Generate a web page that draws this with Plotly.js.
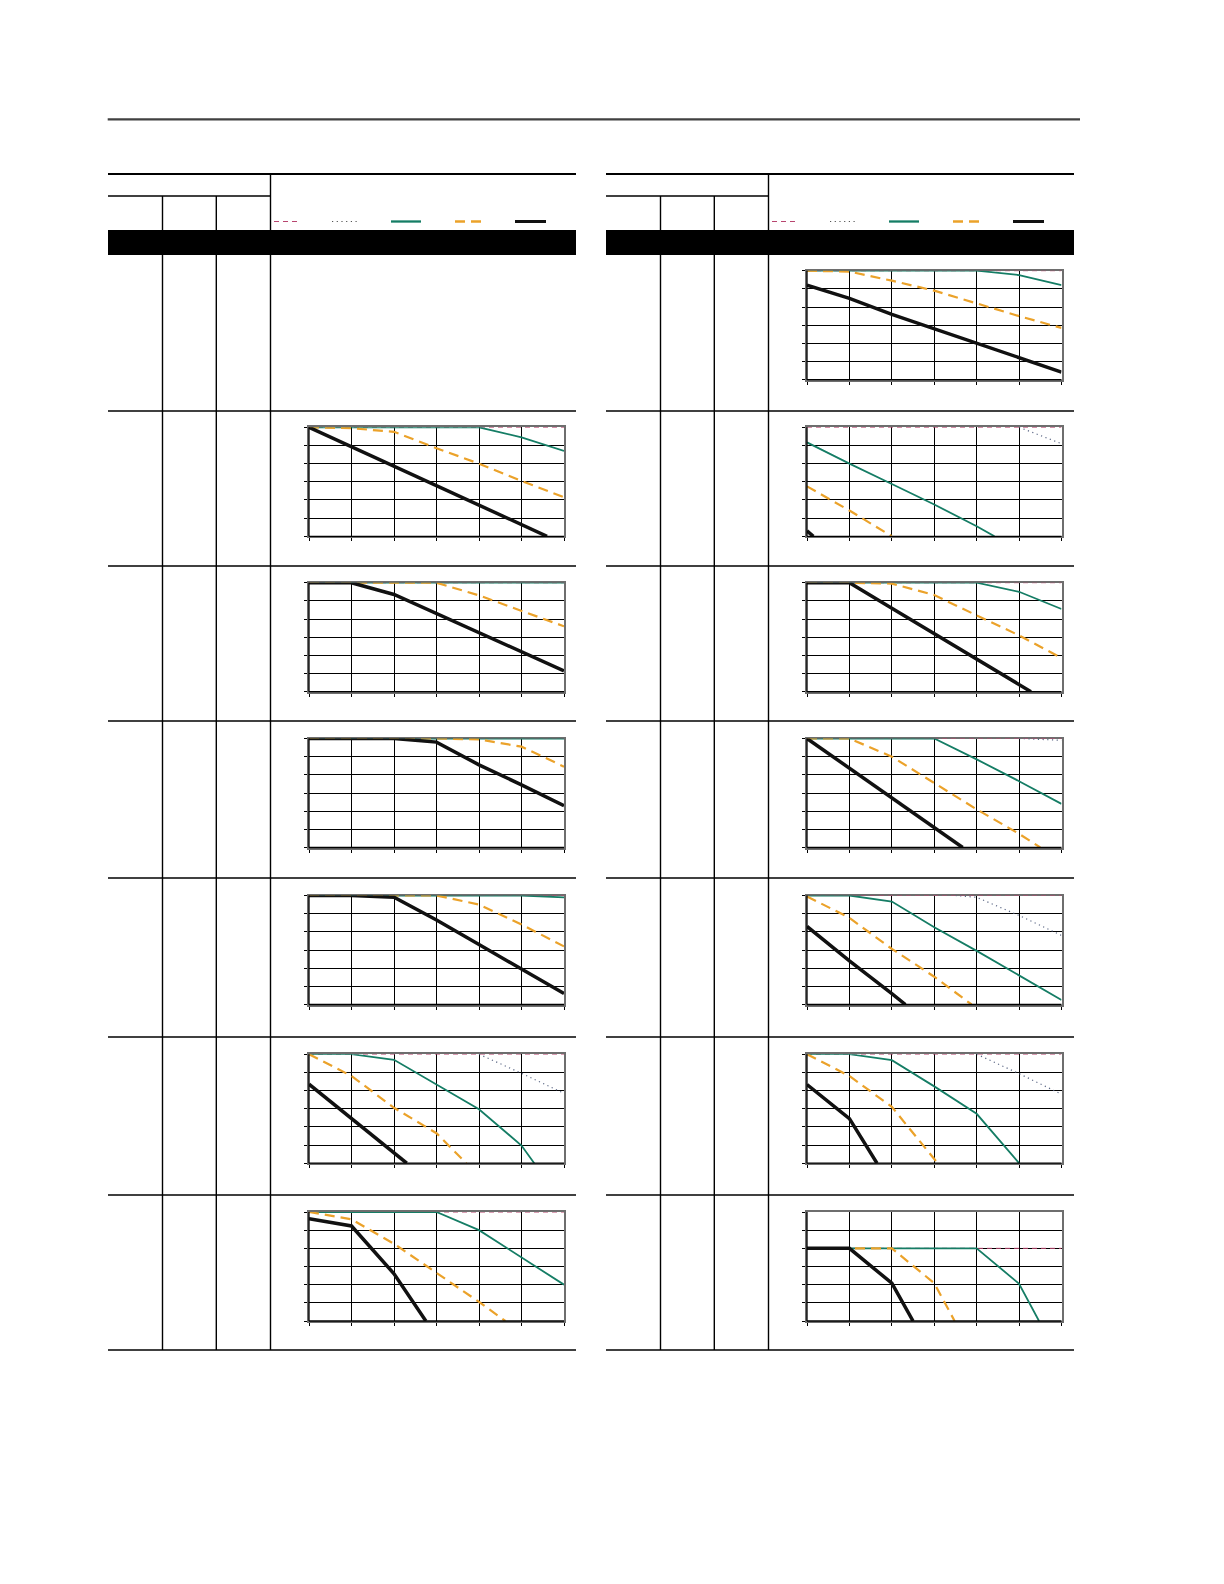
<!DOCTYPE html>
<html>
<head>
<meta charset="utf-8">
<script src="https://cdn.plot.ly/plotly-3.0.1.min.js"></script>
<style>html,body{margin:0;padding:0;background:#fff;}#chart{width:1224px;height:1584px;}</style>
</head>
<body>
<div id="chart"></div>
<script>
// ---------- DATA (grid units: x 0..6, y 0..6) ----------
const X_FULL = [0, 1, 2, 3, 4, 5, 6];
const TOP6 = [6, 6, 6, 6, 6, 6, 6];

// Right column, row 1
const R1_green_y  = [6, 6, 6, 6, 6, 5.76, 5.21];
const R1_orange_y = [6, 5.95, 5.45, 4.9, 4.2, 3.5, 2.85];
const R1_black_y  = [5.2, 4.48, 3.6, 2.8, 2.0, 1.19, 0.42];

// Left column, row 2
const L2_green_y  = [6, 6, 6, 6, 6, 5.45, 4.7];
const L2_orange_y = [6, 5.95, 5.75, 4.85, 4.0, 3.05, 2.15];
const L2_black_x  = [0, 1, 2, 3, 4, 5, 5.6];
const L2_black_y  = [6, 4.93, 3.86, 2.79, 1.71, 0.64, 0];

// Left column, row 3
const L3_green_y  = [6, 6, 6, 6, 6, 6, 6];
const L3_orange_y = [6, 6, 6, 6, 5.3, 4.45, 3.6];
const L3_black_y  = [6, 6, 5.35, 4.3, 3.2, 2.2, 1.15];

// Left column, row 4
const L4_green_y  = [6, 6, 6, 6, 6, 6, 6];
const L4_orange_y = [6, 6, 6, 6, 5.95, 5.55, 4.45];
const L4_black_y  = [6, 6, 6, 5.8, 4.55, 3.45, 2.3];

// Left column, row 5
const L5_green_y  = [6, 6, 6, 6, 6, 6, 5.9];
const L5_orange_y = [6, 6, 6, 6, 5.5, 4.4, 3.2];
const L5_black_y  = [6, 6, 5.9, 4.65, 3.3, 1.95, 0.6];

// Left column, row 6
const L6_dot_x    = [4, 5, 6];
const L6_dot_y    = [6, 4.95, 3.85];
const L6_green_x  = [0, 1, 2, 3, 4, 5, 5.3];
const L6_green_y  = [6, 6, 5.69, 4.31, 2.97, 0.97, 0];
const L6_orange_x = [0, 1, 2, 3, 3.7];
const L6_orange_y = [6, 4.8, 3.05, 1.65, 0];
const L6_black_x  = [0, 1, 2, 2.3];
const L6_black_y  = [4.35, 2.45, 0.55, 0];

// Left column, row 7
const L7_green_y  = [6, 6, 6, 6, 5.0, 3.5, 2.0];
const L7_orange_x = [0, 1, 2, 3, 4, 4.62];
const L7_orange_y = [6, 5.6, 4.25, 2.65, 1.05, 0];
const L7_black_x  = [0, 1, 2, 2.75];
const L7_black_y  = [5.63, 5.23, 2.6, 0];

// Right column, row 2
const R2_dot_x    = [5, 6];
const R2_dot_y    = [6, 5.1];
const R2_green_x  = [0, 1, 2, 3, 4, 4.42];
const R2_green_y  = [5.17, 4.0, 2.88, 1.75, 0.55, 0];
const R2_orange_x = [0, 1, 2];
const R2_orange_y = [2.75, 1.42, 0];
const R2_black_x  = [0, 0.15];
const R2_black_y  = [0.3, 0];

// Right column, row 3
const R3_green_y  = [6, 6, 6, 6, 6, 5.5, 4.55];
const R3_orange_y = [6, 6, 5.95, 5.32, 4.2, 3.1, 1.85];
const R3_black_x  = [0, 1, 2, 3, 4, 5, 5.28];
const R3_black_y  = [6, 6, 4.6, 3.2, 1.8, 0.4, 0];

// Right column, row 4
const R4_dot_x    = [5, 6];
const R4_dot_y    = [6, 5.9];
const R4_green_y  = [6, 6, 6, 6, 4.85, 3.65, 2.4];
const R4_orange_x = [0, 1, 2, 3, 4, 5, 5.5];
const R4_orange_y = [6, 6, 5.0, 3.55, 2.1, 0.75, 0];
const R4_black_x  = [0, 1, 2, 3, 3.67];
const R4_black_y  = [6, 4.35, 2.7, 1.05, 0];

// Right column, row 5
const R5_dot_x    = [3.5, 4, 5, 6];
const R5_dot_y    = [6, 5.9, 4.9, 3.8];
const R5_green_y  = [6, 6, 5.67, 4.25, 2.95, 1.6, 0.25];
const R5_orange_x = [0, 1, 2, 3, 3.88];
const R5_orange_y = [5.95, 4.77, 3.06, 1.53, 0];
const R5_black_x  = [0, 1, 2, 2.32];
const R5_black_y  = [4.3, 2.4, 0.6, 0];

// Right column, row 6
const R6_dot_x    = [4, 5, 6];
const R6_dot_y    = [6, 4.93, 3.8];
const R6_green_x  = [0, 1, 2, 3, 4, 5];
const R6_green_y  = [6, 6, 5.67, 4.23, 2.72, 0];
const R6_orange_x = [0, 1, 2, 3.08];
const R6_orange_y = [6, 4.8, 3.1, 0];
const R6_black_x  = [0, 1, 1.65];
const R6_black_y  = [4.33, 2.45, 0];

// Right column, row 7
const R7_pink_y   = [4, 4, 4, 4, 4, 4, 4];
const R7_green_x  = [0, 1, 2, 3, 4, 5, 5.47];
const R7_green_y  = [4, 4, 4, 4, 4, 2.05, 0];
const R7_orange_x = [0, 1, 2, 3, 3.48];
const R7_orange_y = [4, 4, 4, 2.08, 0];
const R7_black_x  = [0, 1, 2, 2.5];
const R7_black_y  = [4, 4, 2.08, 0];

const CHARTS = [
  {col: 'R', row: 1, pink: [X_FULL, TOP6], green: [X_FULL, R1_green_y], orange: [X_FULL, R1_orange_y], black: [X_FULL, R1_black_y]},
  {col: 'L', row: 2, pink: [X_FULL, TOP6], green: [X_FULL, L2_green_y], orange: [X_FULL, L2_orange_y], black: [L2_black_x, L2_black_y]},
  {col: 'L', row: 3, pink: [X_FULL, TOP6], green: [X_FULL, L3_green_y], orange: [X_FULL, L3_orange_y], black: [X_FULL, L3_black_y]},
  {col: 'L', row: 4, pink: [X_FULL, TOP6], green: [X_FULL, L4_green_y], orange: [X_FULL, L4_orange_y], black: [X_FULL, L4_black_y]},
  {col: 'L', row: 5, pink: [X_FULL, TOP6], green: [X_FULL, L5_green_y], orange: [X_FULL, L5_orange_y], black: [X_FULL, L5_black_y]},
  {col: 'L', row: 6, pink: [X_FULL, TOP6], dotted: [L6_dot_x, L6_dot_y], green: [L6_green_x, L6_green_y], orange: [L6_orange_x, L6_orange_y], black: [L6_black_x, L6_black_y]},
  {col: 'L', row: 7, pink: [X_FULL, TOP6], green: [X_FULL, L7_green_y], orange: [L7_orange_x, L7_orange_y], black: [L7_black_x, L7_black_y]},
  {col: 'R', row: 2, pink: [X_FULL, TOP6], dotted: [R2_dot_x, R2_dot_y], green: [R2_green_x, R2_green_y], orange: [R2_orange_x, R2_orange_y], black: [R2_black_x, R2_black_y]},
  {col: 'R', row: 3, pink: [X_FULL, TOP6], green: [X_FULL, R3_green_y], orange: [X_FULL, R3_orange_y], black: [R3_black_x, R3_black_y]},
  {col: 'R', row: 4, pink: [X_FULL, TOP6], dotted: [R4_dot_x, R4_dot_y], green: [X_FULL, R4_green_y], orange: [R4_orange_x, R4_orange_y], black: [R4_black_x, R4_black_y]},
  {col: 'R', row: 5, pink: [X_FULL, TOP6], dotted: [R5_dot_x, R5_dot_y], green: [X_FULL, R5_green_y], orange: [R5_orange_x, R5_orange_y], black: [R5_black_x, R5_black_y]},
  {col: 'R', row: 6, pink: [X_FULL, TOP6], dotted: [R6_dot_x, R6_dot_y], green: [R6_green_x, R6_green_y], orange: [R6_orange_x, R6_orange_y], black: [R6_black_x, R6_black_y]},
  {col: 'R', row: 7, pink: [X_FULL, R7_pink_y], green: [R7_green_x, R7_green_y], orange: [R7_orange_x, R7_orange_y], black: [R7_black_x, R7_black_y]}
];

// ---------- STYLES / LAYOUT ----------
const W = 1224, H = 1584;
const fx = x => x / W;
const fy = y => 1 - y / H;

const STYLE = {
  pink:   {color: '#b8456f', width: 1,   dash: '5px,4px'},
  dotted: {color: '#5a6684', width: 1.2, dash: '1.2px,3.5px'},
  green:  {color: '#157d65', width: 1.8, dash: 'solid'},
  orange: {color: '#eba22a', width: 2.2, dash: '10px,6px'},
  black:  {color: '#111111', width: 3.5, dash: 'solid'}
};
const ORDER = ['pink', 'dotted', 'green', 'orange', 'black'];

const ROW_TOP = {1: 270.7, 2: 427.3, 3: 582.7, 4: 738.5, 5: 895.5, 6: 1054.2, 7: 1212};
const PLOT_H = 109;
const COL_X = {L: [309, 564], R: [807, 1061.5]};
const HALF_OFF = {L: 0, R: 498};
const SEPS = [411, 566, 721, 878, 1037, 1195, 1350];

const traces = [];
const layout = {
  width: W, height: H, margin: {l: 0, r: 0, t: 0, b: 0},
  paper_bgcolor: '#fff', plot_bgcolor: '#fff', showlegend: false,
  shapes: []
};

function axisBase(domain, anchor) {
  return {
    domain: domain, anchor: anchor, range: [0, 6], dtick: 1, tick0: 0,
    showgrid: true, gridcolor: '#000', gridwidth: 1,
    showline: true, mirror: true, linecolor: '#6e6e6e', linewidth: 2,
    ticks: 'outside', ticklen: 3, tickwidth: 1, tickcolor: '#000',
    showticklabels: false, zeroline: false, fixedrange: true,
    layer: 'below traces'
  };
}

CHARTS.forEach((c, i) => {
  const n = i + 1;
  const xn = n === 1 ? 'x' : 'x' + n;
  const yn = n === 1 ? 'y' : 'y' + n;
  const xk = n === 1 ? 'xaxis' : 'xaxis' + n;
  const yk = n === 1 ? 'yaxis' : 'yaxis' + n;
  const top = ROW_TOP[c.row];
  const x0 = COL_X[c.col][0], x1 = COL_X[c.col][1];
  layout[xk] = axisBase([fx(x0), fx(x1)], yn);
  layout[yk] = axisBase([fy(top + PLOT_H), fy(top)], xn);
  ORDER.forEach(k => {
    if (!c[k]) return;
    traces.push({
      type: 'scatter', mode: 'lines', x: c[k][0], y: c[k][1],
      xaxis: xn, yaxis: yn, cliponaxis: false, hoverinfo: 'skip',
      line: {color: STYLE[k].color, width: STYLE[k].width, dash: STYLE[k].dash, shape: 'linear'}
    });
  });
  // black left and bottom axis lines
  layout.shapes.push({type: 'line', xref: 'paper', yref: 'paper', x0: fx(x0), x1: fx(x0), y0: fy(top + PLOT_H), y1: fy(top),
    line: {color: '#000', width: 1.3}, layer: 'above'});
  layout.shapes.push({type: 'line', xref: 'paper', yref: 'paper', x0: fx(x0), x1: fx(x1), y0: fy(top + PLOT_H), y1: fy(top + PLOT_H),
    line: {color: '#000', width: 1.3}, layer: 'above'});
});

// ---------- TABLE FRAME ----------
function hline(y, x0, x1, w, color) {
  layout.shapes.push({type: 'line', xref: 'paper', yref: 'paper', x0: fx(x0), x1: fx(x1), y0: fy(y), y1: fy(y),
    line: {color: color || '#000', width: w}, layer: 'above'});
}
function vline(x, y0, y1, w, color) {
  layout.shapes.push({type: 'line', xref: 'paper', yref: 'paper', x0: fx(x), x1: fx(x), y0: fy(y0), y1: fy(y1),
    line: {color: color || '#000', width: w}, layer: 'above'});
}

hline(119.3, 107.7, 1080, 2.2, '#404040');

['L', 'R'].forEach(side => {
  const o = HALF_OFF[side];
  hline(173.9, 108 + o, 576 + o, 2);
  hline(196, 108 + o, 270.5 + o, 1.4);
  layout.shapes.push({type: 'rect', xref: 'paper', yref: 'paper', x0: fx(108 + o), x1: fx(576 + o), y0: fy(255), y1: fy(230),
    fillcolor: '#000', line: {width: 0}, layer: 'above'});
  vline(270.5 + o, 173.9, 1350, 1.4);
  vline(162.5 + o, 196, 1350, 1.4);
  vline(216.3 + o, 196, 1350, 1.4);
  SEPS.forEach(y => hline(y, 108 + o, 576 + o, 1.4));
  // legend samples
  const LY = 221.5;
  const sample = (a, b, k) => layout.shapes.push({type: 'line', xref: 'paper', yref: 'paper',
    x0: fx(a + o), x1: fx(b + o), y0: fy(LY), y1: fy(LY),
    line: {color: k === 'dotted' ? '#555555' : STYLE[k].color,
           width: k === 'black' ? 3 : (k === 'pink' || k === 'dotted' ? 1 : 2.3),
           dash: STYLE[k].dash}, layer: 'above'});
  sample(274, 298.5, 'pink');
  sample(332, 358, 'dotted');
  sample(391, 421, 'green');
  sample(455, 482, 'orange');
  sample(515, 546, 'black');
});

Plotly.newPlot('chart', traces, layout, {staticPlot: true, displayModeBar: false});
</script>
</body>
</html>
